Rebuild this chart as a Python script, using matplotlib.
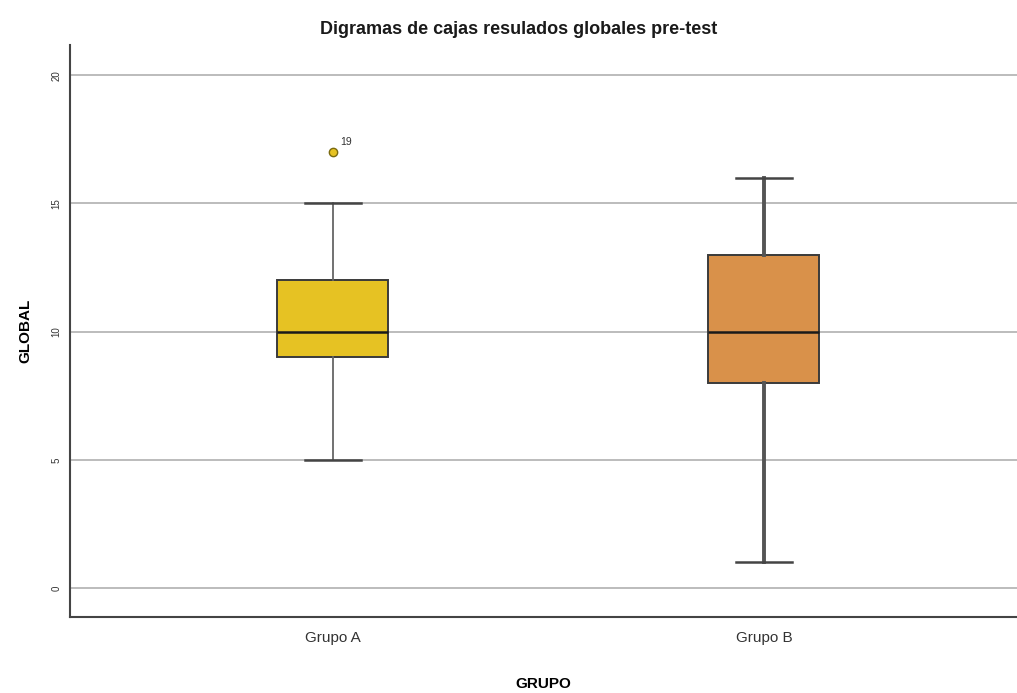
import matplotlib.pyplot as plt

plt.rcParams['font.family'] = ['Liberation Sans', 'DejaVu Sans']

groups = ['Grupo A', 'Grupo B']
whisker_low = [5, 1]
q1 = [9, 8]
median = [10, 10]
q3 = [12, 13]
whisker_high = [15, 16]
outliers = [[17], []]
outlier_ids = [['19'], []]
box_colors = ['#E6C223', '#D9914A']
y_ticks = [0, 5, 10, 15, 20]

fig = plt.figure(figsize=(10.17, 6.93), dpi=100)
ax = fig.add_axes([0.0688, 0.1097, 0.931, 0.825])

stats = []
for i in range(len(groups)):
    stats.append({'whislo': whisker_low[i], 'q1': q1[i], 'med': median[i],
                  'q3': q3[i], 'whishi': whisker_high[i], 'fliers': outliers[i]})

positions = list(range(len(groups)))
bp = ax.bxp(stats, positions=positions, widths=0.258, patch_artist=True,
            showfliers=True, capwidths=0.13,
            medianprops=dict(color='#1a1a1a', linewidth=1.8),
            whiskerprops=dict(color='#666666', linewidth=1.3),
            capprops=dict(color='#444444', linewidth=1.8),
            boxprops=dict(edgecolor='#3a3a3a', linewidth=1.4),
            flierprops=dict(marker='o', markersize=6, markerfacecolor='#E6C223',
                            markeredgecolor='#7a6a10', markeredgewidth=1.0))
for patch, c in zip(bp['boxes'], box_colors):
    patch.set_facecolor(c)
# group B whiskers look a bit heavier
bp['whiskers'][2].set_linewidth(2.8)
bp['whiskers'][3].set_linewidth(2.8)
bp['whiskers'][2].set_color('#555555')
bp['whiskers'][3].set_color('#555555')

for i, (vals, ids) in enumerate(zip(outliers, outlier_ids)):
    for v, lab in zip(vals, ids):
        ax.annotate(lab, (positions[i], v), xytext=(5, 5), textcoords='offset points',
                    fontsize=7.5, color='#333333')

ax.set_ylim(-1.13, 21.17)
ax.set_xlim(-0.61, 1.587)
ax.set_yticks(y_ticks)
ax.set_yticklabels([str(t) for t in y_ticks], rotation=90, va='center', fontsize=7, color='#333333')
ax.set_xticks(positions)
ax.set_xticklabels(groups, fontsize=11, color='#333333')
ax.tick_params(axis='x', length=0, pad=10)
ax.tick_params(axis='y', length=0, pad=6)

ax.grid(axis='y', color='#b0b0b0', linewidth=1.2)
ax.set_axisbelow(True)
for s in ['top', 'right']:
    ax.spines[s].set_visible(False)
for s in ['left', 'bottom']:
    ax.spines[s].set_color('#444444')
    ax.spines[s].set_linewidth(1.5)

ax.set_ylabel('GLOBAL', fontsize=11, fontweight='bold', labelpad=14)
ax.set_xlabel('GRUPO', fontsize=11, fontweight='bold', labelpad=23)
fig.text(0.51, 0.958, 'Digramas de cajas resulados globales pre-test', ha='center', va='center',
         fontsize=13, fontweight='bold', color='#1a1a1a')

fig.savefig('out.png', dpi=100, facecolor='white')
